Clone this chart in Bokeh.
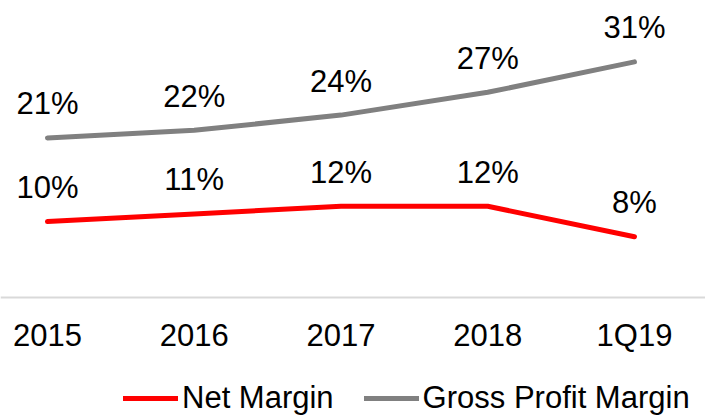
from bokeh.plotting import figure
from bokeh.models import ColumnDataSource, Legend, LegendItem, FixedTicker, Range1d
from bokeh.core.properties import value
from bokeh.embed import file_html
from bokeh.resources import INLINE

categories = ["2015", "2016", "2017", "2018", "1Q19"]
net_margin = [10, 11, 12, 12, 8]
gross_margin = [21, 22, 24, 27, 31]
net_labels = ["10%", "11%", "12%", "12%", "8%"]
gross_labels = ["21%", "22%", "24%", "27%", "31%"]

xs = list(range(len(categories)))
src = ColumnDataSource(dict(x=xs, net=net_margin, gross=gross_margin,
                            net_lbl=net_labels, gross_lbl=gross_labels))

FONT = "Liberation Sans"
p = figure(frame_width=705, frame_height=416, output_backend="svg",
           toolbar_location=None, min_border_left=0, min_border_right=0,
           min_border_top=0, min_border_bottom=0,
           x_range=Range1d(-0.32, 4.484), y_range=Range1d(-15.658, 39.08))
p.outline_line_color = None
p.grid.visible = False
p.yaxis.visible = False

ax = p.xaxis[0]
ax.fixed_location = 0
ax.ticker = FixedTicker(ticks=xs)
ax.major_label_overrides = {i: c for i, c in zip(xs, categories)}
ax.axis_line_color = "#D9D9D9"
ax.axis_line_width = 2
ax.major_tick_line_color = None
ax.minor_tick_line_color = None
ax.major_label_text_font = FONT
ax.major_label_text_font_size = "31px"
ax.major_label_text_color = "#000000"
ax.major_label_standoff = 14

r_net = p.line("x", "net", source=src, line_color="#FF0000", line_width=5, line_cap="round", line_join="round")
r_gross = p.line("x", "gross", source=src, line_color="#808080", line_width=5, line_cap="round", line_join="round")

for col, lbl in (("net", "net_lbl"), ("gross", "gross_lbl")):
    p.text("x", col, text=lbl, source=src, text_font=value(FONT), text_font_size="31px",
           text_color="#000000", text_align="center", text_baseline="alphabetic", y_offset=-34)

legend = Legend(items=[LegendItem(label="Net Margin", renderers=[r_net]),
                       LegendItem(label="Gross Profit Margin", renderers=[r_gross])],
                orientation="horizontal", location=(123, 0),
                glyph_width=55, glyph_height=20, label_standoff=4, spacing=30,
                padding=0, margin=0, border_line_alpha=0, background_fill_alpha=0,
                label_text_font=FONT, label_text_font_size="31px", label_text_color="#000000")
p.add_layout(legend, "center")

open("out.html", "w").write(file_html(p, INLINE))
